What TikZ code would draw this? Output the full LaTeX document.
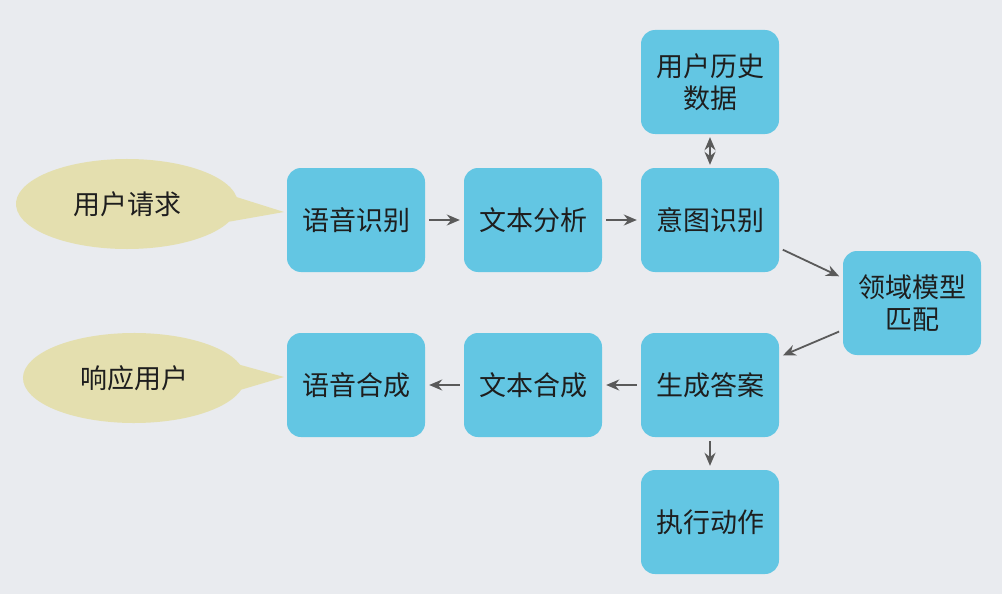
\documentclass[tikz,border=0pt]{standalone}
\usepackage{fontspec}
\setmainfont{Noto Sans CJK SC}
\usetikzlibrary{shapes.callouts,shapes.geometric,arrows.meta}
\definecolor{bg}{HTML}{E9EBEF}
\definecolor{boxc}{HTML}{63C6E3}
\definecolor{bubc}{HTML}{E4DFAF}
\definecolor{arrc}{HTML}{5A5A5A}
\definecolor{txtc}{HTML}{1E1E1E}
\tikzset{
  stepbox/.style={rectangle, rounded corners=14pt, fill=boxc, minimum width=138pt, minimum height=104pt, align=center, text=txtc, font=\fontsize{27}{32}\selectfont, inner sep=0pt},
  bubble/.style={ellipse callout, fill=bubc, minimum width=222pt, minimum height=90pt, text=txtc, font=\fontsize{27}{32}\selectfont, callout pointer arc=32},
  tip/.tip={Stealth[length=13pt,width=11pt]},
  conn/.style={draw=arrc, line width=1.8pt, -tip, shorten >=4pt, shorten <=4pt},
  conn2/.style={draw=arrc, line width=1.8pt, tip-tip, shorten >=3pt, shorten <=3pt}
}
\begin{document}
\begin{tikzpicture}[x=1pt,y=-1pt]
\fill[bg] (0,0) rectangle (1002,594);
\useasboundingbox (0,0) rectangle (1002,594);
\node[stepbox] (asr) at (356,220) {语音识别};
\node[stepbox] (nlp) at (533,220) {文本分析};
\node[stepbox] (intent) at (710,220) {意图识别};
\node[stepbox] (hist) at (710,82) {用户历史\\数据};
\node[stepbox] (domain) at (912,303) {领域模型\\匹配};
\node[stepbox] (ans) at (710,385) {生成答案};
\node[stepbox] (tts1) at (533,385) {文本合成};
\node[stepbox] (tts2) at (356,385) {语音合成};
\node[stepbox] (act) at (710,522) {执行动作};
\coordinate (p1) at (284,212);
\coordinate (p2) at (284,377);
\node[bubble, callout absolute pointer={(p1)}] (req) at (127,204) {用户请求};
\node[bubble, callout absolute pointer={(p2)}] (resp) at (134,378) {响应用户};
\draw[conn] (asr) -- (nlp);
\draw[conn] (nlp) -- (intent);
\draw[conn2] (hist) -- (intent);
\draw[conn] (intent.east |- 0,248) -- (domain.west |- 0,278);
\draw[conn] (domain.west |- 0,330) -- (ans.east |- 0,357);
\draw[conn] (ans) -- (tts1);
\draw[conn] (tts1) -- (tts2);
\draw[conn] (ans) -- (act);
\end{tikzpicture}
\end{document}
